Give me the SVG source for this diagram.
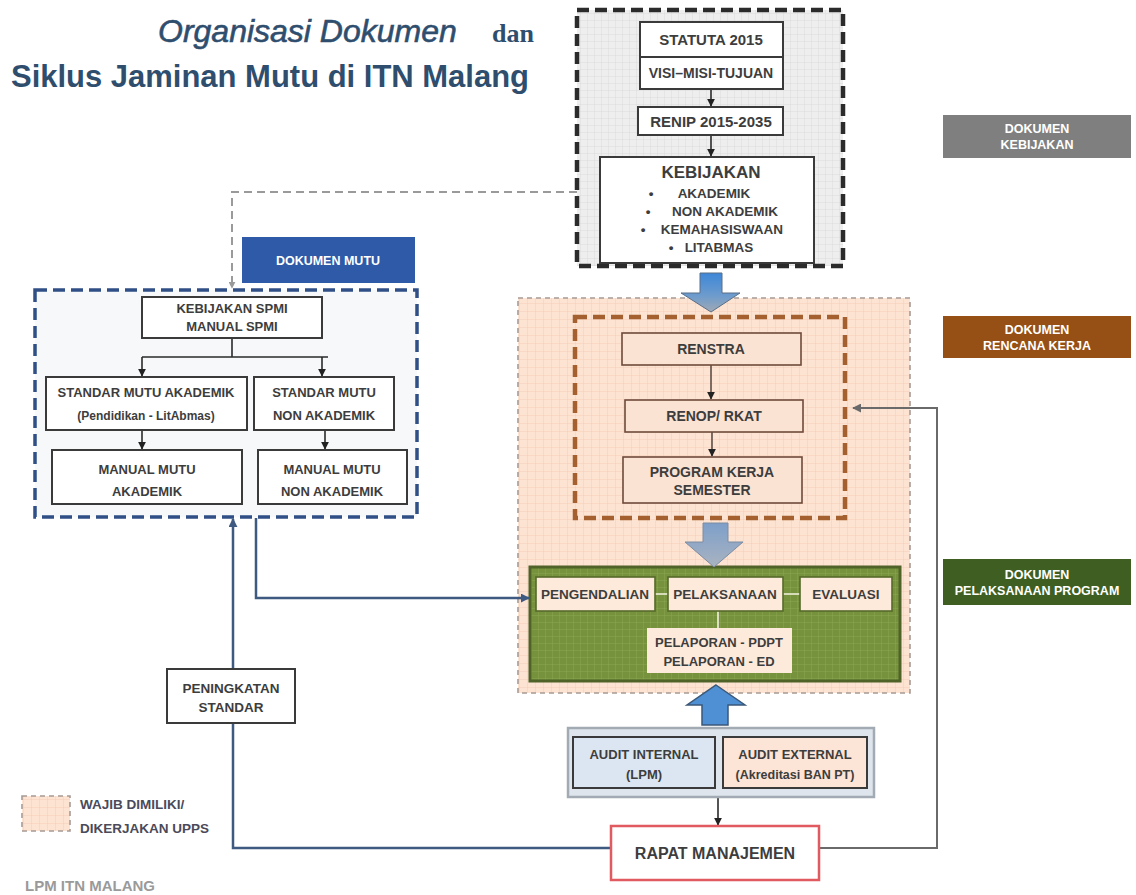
<svg xmlns="http://www.w3.org/2000/svg" width="1136" height="895" viewBox="0 0 1136 895">
<style>
.t{font-family:"Liberation Sans",Arial,sans-serif;font-weight:bold;fill:#3d3d3d;text-anchor:middle}
.bx{fill:#ffffff;stroke:#3a3a3a;stroke-width:2}
.ob{fill:#fbe3d3;stroke:#6e4a3a;stroke-width:1.6}
.gb{fill:#fdeadb;stroke:#56692a;stroke-width:1.6}
.blue{fill:none;stroke:#3f5a80;stroke-width:2.5}
.gray{fill:none;stroke:#6a6a6a;stroke-width:2}
.thin{fill:none;stroke:#2a2a2a;stroke-width:1.6}
.lbl{font-family:"Liberation Sans",Arial,sans-serif;font-weight:bold;fill:#ffffff;text-anchor:middle;font-size:12.5px}
</style>
<defs>
<pattern id="gGray" width="7" height="7" patternUnits="userSpaceOnUse"><rect width="7" height="7" fill="#eeeeee"/><path d="M7 0V7M0 7H7" stroke="#d6d6d6" stroke-width="0.8"/></pattern>
<pattern id="gPink" width="8" height="8" patternUnits="userSpaceOnUse"><rect width="8" height="8" fill="#fde3d2"/><path d="M8 0V8M0 8H8" stroke="#f3c9b2" stroke-width="0.8"/></pattern>
<pattern id="gGreen" width="7" height="7" patternUnits="userSpaceOnUse"><rect width="7" height="7" fill="#76923c"/><path d="M7 0V7M0 7H7" stroke="#8fab55" stroke-width="0.8"/></pattern>
<linearGradient id="arTop" x1="0" y1="0" x2="0" y2="1"><stop offset="0" stop-color="#3d87d8"/><stop offset="0.6" stop-color="#6f9ccc"/><stop offset="1" stop-color="#a1a9b4"/></linearGradient>
<linearGradient id="arMid" x1="0" y1="0" x2="0" y2="1"><stop offset="0" stop-color="#7d9fc9"/><stop offset="1" stop-color="#a9b3c1"/></linearGradient>
<marker id="ak" viewBox="0 0 10 10" refX="9" refY="5" markerWidth="8" markerHeight="8" orient="auto" markerUnits="userSpaceOnUse"><path d="M0,0 L10,5 L0,10 z" fill="#222"/></marker>
<marker id="ab" viewBox="0 0 10 10" refX="9" refY="5" markerWidth="9" markerHeight="9" orient="auto" markerUnits="userSpaceOnUse"><path d="M0,0 L10,5 L0,10 z" fill="#3f5a80"/></marker>
<marker id="ag" viewBox="0 0 10 10" refX="9" refY="5" markerWidth="9" markerHeight="9" orient="auto" markerUnits="userSpaceOnUse"><path d="M0,0 L10,5 L0,10 z" fill="#6a6a6a"/></marker>
<marker id="agd" viewBox="0 0 10 10" refX="9" refY="5" markerWidth="7" markerHeight="7" orient="auto" markerUnits="userSpaceOnUse"><path d="M0,0 L10,5 L0,10 z" fill="#9a9a9a"/></marker>
</defs>

<rect width="1136" height="895" fill="#ffffff"/>

<g id="title" fill="#2f4e6e">
<text x="158" y="42" font-family="'Liberation Sans',Arial,sans-serif" font-size="32" font-style="italic" stroke="#2f4e6e" stroke-width="0.6">Organisasi Dokumen</text>
<text x="492" y="42" font-family="'Liberation Serif','Times New Roman',serif" font-size="26" font-weight="bold">dan</text>
<text x="11" y="87" font-family="'Liberation Sans',Arial,sans-serif" font-size="31" font-weight="bold" textLength="518" lengthAdjust="spacingAndGlyphs">Siklus Jaminan Mutu di ITN Malang</text>
</g>

<!-- Regions -->
<g id="region-kebijakan">
<rect x="577" y="10" width="266" height="256" fill="url(#gGray)" stroke="#2b2b2b" stroke-width="4.5" stroke-dasharray="12,6"/>
</g>
<g id="region-upps">
<rect x="518" y="298" width="392" height="395" fill="url(#gPink)" stroke="#a89a94" stroke-width="1.6" stroke-dasharray="5,4"/>
</g>
<g id="region-renja">
<rect x="575" y="317" width="270" height="201" fill="url(#gPink)" stroke="#a5602f" stroke-width="4.5" stroke-dasharray="12,6"/>
</g>
<g id="region-pelaksanaan">
<rect x="530" y="567" width="370" height="114" fill="url(#gGreen)" stroke="#4f6228" stroke-width="3"/>
</g>
<g id="region-mutu">
<rect x="35" y="290" width="382" height="227" fill="#f7f8fa" stroke="#2f4f86" stroke-width="3.5" stroke-dasharray="12,6"/>
</g>

<!-- Connectors -->
<g id="connectors">
<path class="thin" d="M711 89V106" marker-end="url(#ak)"/>
<path class="thin" d="M711 135V156" marker-end="url(#ak)"/>
<path d="M577 192H232V288" fill="none" stroke="#9a9a9a" stroke-width="2" stroke-dasharray="8,5" marker-end="url(#agd)"/>
<path class="thin" d="M232 338V357M142 357H328"/>
<path class="thin" d="M142 357V376" marker-end="url(#ak)"/>
<path class="thin" d="M322 357V376" marker-end="url(#ak)"/>
<path class="thin" d="M142 430V449" marker-end="url(#ak)"/>
<path class="thin" d="M325 430V449" marker-end="url(#ak)"/>
<path d="M711 365V399" fill="none" stroke="#4a3a34" stroke-width="1.4" marker-end="url(#ak)"/>
<path d="M712 432V456" fill="none" stroke="#4a3a34" stroke-width="1.4" marker-end="url(#ak)"/>
<path d="M655 594H668M783 594H800M718 611V628" fill="none" stroke="#f4f1e0" stroke-width="1.6"/>
<path class="blue" d="M256 518V598H529" marker-end="url(#ab)"/>
<path class="blue" d="M611 848H233V519" marker-end="url(#ab)"/>
<path class="gray" d="M819 848H937V408H853" marker-end="url(#ag)"/>
<path class="thin" d="M718 797V825" marker-end="url(#ak)"/>
<polygon points="700,273 722,273 722,293 740,293 711,312 681,293 700,293" fill="url(#arTop)" stroke="#5a6f88" stroke-width="1"/>
<polygon points="703,523 728,523 728,542 743,542 714,567 685,542 703,542" fill="url(#arMid)" stroke="#7c8ca2" stroke-width="1"/>
<polygon points="716,685 745,705 728,705 728,725 702,725 702,705 687,705" fill="#4f8fd4" stroke="#3a5878" stroke-width="1.5"/>
</g>

<!-- Kebijakan nodes -->
<g id="n-statuta"><rect class="bx" x="640" y="22" width="143" height="35"/><text class="t" x="711" y="45" font-size="15">STATUTA 2015</text></g>
<g id="n-visi"><rect class="bx" x="640" y="57" width="143" height="32"/><text class="t" x="711" y="78" font-size="14">VISI–MISI-TUJUAN</text></g>
<g id="n-renip"><rect class="bx" x="638" y="107" width="145" height="28"/><text class="t" x="711" y="127" font-size="15">RENIP 2015-2035</text></g>
<g id="n-kebijakan"><rect class="bx" x="600" y="157" width="214" height="106"/>
<text class="t" x="711" y="178" font-size="17">KEBIJAKAN</text>
<g font-size="13.5">
<text class="t" x="651" y="198">•</text><text class="t" x="714" y="198">AKADEMIK</text>
<text class="t" x="648" y="216">•</text><text class="t" x="725" y="216">NON AKADEMIK</text>
<text class="t" x="643" y="234">•</text><text class="t" x="722" y="234">KEMAHASISWAAN</text>
<text class="t" x="671" y="252">•</text><text class="t" x="719" y="252">LITABMAS</text>
</g></g>

<!-- Side labels -->
<g id="lbl-kebijakan"><rect x="943" y="115" width="188" height="43" fill="#7f7f7f"/><text class="lbl" x="1037" y="133">DOKUMEN</text><text class="lbl" x="1037" y="149">KEBIJAKAN</text></g>
<g id="lbl-renja"><rect x="943" y="316" width="188" height="42" fill="#964f14"/><text class="lbl" x="1037" y="334">DOKUMEN</text><text class="lbl" x="1037" y="350">RENCANA KERJA</text></g>
<g id="lbl-pelaksanaan"><rect x="943" y="559" width="188" height="46" fill="#3f5f22"/><text class="lbl" x="1037" y="579">DOKUMEN</text><text class="lbl" x="1037" y="595">PELAKSANAAN PROGRAM</text></g>
<g id="lbl-mutu"><rect x="242" y="237" width="173" height="46" fill="#2e5aa7"/><text class="lbl" x="328" y="265" font-size="15">DOKUMEN MUTU</text></g>

<!-- Mutu nodes -->
<g id="n-spmi"><rect class="bx" x="142" y="297" width="180" height="41"/><text class="t" x="232" y="313" font-size="13">KEBIJAKAN SPMI</text><text class="t" x="232" y="331" font-size="13">MANUAL SPMI</text></g>
<g id="n-sma"><rect class="bx" x="46" y="377" width="201" height="53"/><text class="t" x="146" y="397" font-size="13">STANDAR MUTU AKADEMIK</text><text class="t" x="146" y="420" font-size="12" font-weight="normal">(Pendidikan - LitAbmas)</text></g>
<g id="n-smna"><rect class="bx" x="254" y="377" width="140" height="53"/><text class="t" x="324" y="397" font-size="13">STANDAR MUTU</text><text class="t" x="324" y="420" font-size="13">NON AKADEMIK</text></g>
<g id="n-mma"><rect class="bx" x="52" y="450" width="190" height="54"/><text class="t" x="147" y="474" font-size="13">MANUAL MUTU</text><text class="t" x="147" y="496" font-size="13">AKADEMIK</text></g>
<g id="n-mmna"><rect class="bx" x="258" y="450" width="149" height="54"/><text class="t" x="332" y="474" font-size="13">MANUAL MUTU</text><text class="t" x="332" y="496" font-size="13">NON AKADEMIK</text></g>

<!-- Renja nodes -->
<g id="n-renstra"><rect class="ob" x="622" y="333" width="179" height="32"/><text class="t" x="711" y="354" font-size="14" fill="#5a5a5a">RENSTRA</text></g>
<g id="n-renop"><rect class="ob" x="625" y="400" width="178" height="32"/><text class="t" x="714" y="421" font-size="14" fill="#5a5a5a">RENOP/ RKAT</text></g>
<g id="n-proker"><rect class="ob" x="623" y="457" width="179" height="46"/><text class="t" x="712" y="477" font-size="14" fill="#5a5a5a">PROGRAM KERJA</text><text class="t" x="712" y="495" font-size="14" fill="#5a5a5a">SEMESTER</text></g>

<!-- Pelaksanaan nodes -->
<g id="n-pengendalian"><rect class="gb" x="536" y="577" width="119" height="34"/><text class="t" x="595" y="599" font-size="13.5">PENGENDALIAN</text></g>
<g id="n-pelaksanaan"><rect class="gb" x="668" y="577" width="115" height="34"/><text class="t" x="725" y="599" font-size="13.5">PELAKSANAAN</text></g>
<g id="n-evaluasi"><rect class="gb" x="800" y="577" width="92" height="34"/><text class="t" x="846" y="599" font-size="13.5">EVALUASI</text></g>
<g id="n-pelaporan"><rect x="647" y="628" width="145" height="45" fill="#fdeadb"/><text class="t" x="719" y="647" font-size="13">PELAPORAN - PDPT</text><text class="t" x="719" y="666" font-size="13">PELAPORAN - ED</text></g>

<!-- Audit -->
<g id="n-audit"><rect x="568" y="728" width="306" height="69" fill="#dfe5ec" stroke="#a2aab3" stroke-width="2.5"/></g>
<g id="n-audit-internal"><rect x="573" y="737" width="142" height="51" fill="#dce6f2" stroke="#3a3a3a" stroke-width="2"/><text class="t" x="644" y="759" font-size="13">AUDIT INTERNAL</text><text class="t" x="644" y="779" font-size="13">(LPM)</text></g>
<g id="n-audit-external"><rect x="723" y="737" width="144" height="51" fill="#fce4d6" stroke="#3a3a3a" stroke-width="2"/><text class="t" x="795" y="759" font-size="13">AUDIT EXTERNAL</text><text class="t" x="795" y="779" font-size="12.5">(Akreditasi BAN PT)</text></g>
<g id="n-rapat"><rect x="611" y="826" width="208" height="54" fill="#ffffff" stroke="#e05a60" stroke-width="2.5"/><text class="t" x="715" y="859" font-size="16">RAPAT MANAJEMEN</text></g>

<g id="n-peningkatan"><rect class="bx" x="167" y="669" width="128" height="54" stroke="#555"/><text class="t" x="231" y="693" font-size="13.5">PENINGKATAN</text><text class="t" x="231" y="712" font-size="13.5">STANDAR</text></g>

<!-- Legend -->
<g id="legend">
<rect x="22" y="796" width="48" height="35" fill="url(#gPink)" stroke="#a89a94" stroke-width="1.6" stroke-dasharray="5,4"/>
<text x="80" y="809" font-family="'Liberation Sans',Arial,sans-serif" font-weight="bold" font-size="13.5" fill="#4a4a5a">WAJIB DIMILIKI/</text>
<text x="80" y="833" font-family="'Liberation Sans',Arial,sans-serif" font-weight="bold" font-size="13.5" fill="#4a4a5a">DIKERJAKAN UPPS</text>
<text x="25" y="891" font-family="'Liberation Sans',Arial,sans-serif" font-weight="bold" font-size="15" fill="#9a9a9a">LPM ITN MALANG</text>
</g>
</svg>
